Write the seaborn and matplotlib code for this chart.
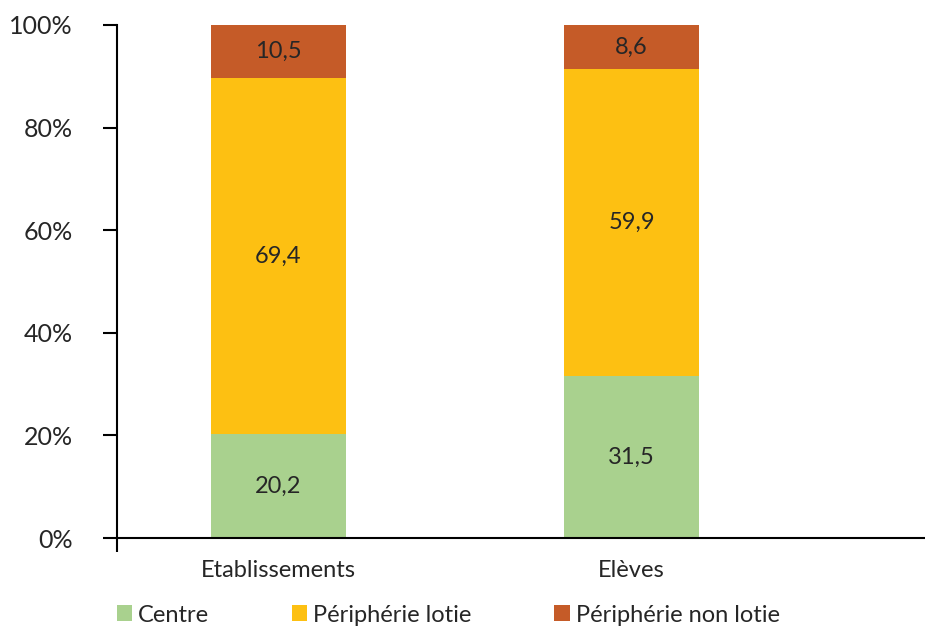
import matplotlib
matplotlib.use("Agg")
import matplotlib.pyplot as plt
import seaborn as sns
import pandas as pd
import numpy as np
from matplotlib.patches import Patch

categories = ["Etablissements", "Elèves"]
series = ["Centre", "Périphérie lotie", "Périphérie non lotie"]
centre = [20.2, 31.5]
peri_lotie = [69.4, 59.9]
peri_non_lotie = [10.5, 8.6]
yticks = [0, 20, 40, 60, 80, 100]
ytick_labels = ["0%", "20%", "40%", "60%", "80%", "100%"]
colors = ["#A9D18E", "#FDC012", "#C55B28"]

sns.set_theme(style="white")
plt.rcParams["font.family"] = ["Lato", "DejaVu Sans"]
plt.rcParams["font.weight"] = "normal"
txt = "#262626"

fig = plt.figure(figsize=(9.25, 6.28), dpi=100)
ax = fig.add_axes([117/925, 1-538/628, 1-117/925, (538-25)/628])

vals = [centre, peri_lotie, peri_non_lotie]
cum = np.cumsum(np.array(vals), axis=0)
df = pd.DataFrame({"cat": categories})
# draw from top layer down so the stacked look emerges
for i in range(len(series) - 1, -1, -1):
    df["v"] = cum[i]
    sns.barplot(data=df, x="cat", y="v", color=colors[i], width=135/353,
                saturation=1, ax=ax, order=categories, linewidth=0, edgecolor="none")

for i in range(len(series)):
    for j in range(len(categories)):
        bottom = cum[i][j] - vals[i][j]
        ax.text(j, bottom + vals[i][j] / 2, f"{vals[i][j]:.1f}".replace(".", ","),
                ha="center", va="center", fontsize=17, color=txt)

xmin = -(278.5 - 117) / 353
xmax = 1 + (925 - 631.5) / 353
ax.set_xlim(xmin, xmax)
ax.set_ylim(0, 100)
ax.set_yticks(yticks)
ax.set_yticklabels(ytick_labels, fontsize=18, color=txt)
ax.set_xticks([0, 1])
ax.set_xticklabels(categories, fontsize=17, color=txt)
ax.set_xticks([xmin], minor=True)
ax.tick_params(axis="x", which="major", length=0, pad=16)
ax.tick_params(axis="x", which="minor", length=10, width=1.5, color="black", direction="out", bottom=True)
ax.tick_params(axis="y", length=10, width=1.5, color="black", direction="out", pad=22, left=True)
ax.set_xlabel("")
ax.set_ylabel("")
for s in ["top", "right"]:
    ax.spines[s].set_visible(False)
for s in ["left", "bottom"]:
    ax.spines[s].set_color("black")
    ax.spines[s].set_linewidth(1.5)
ax.spines["bottom"].set_zorder(5)

handles = [Patch(facecolor=c, edgecolor="none") for c in colors]
leg = fig.legend(handles, series, loc="center left", bbox_to_anchor=(117/925, 1-615/628),
                 ncol=3, frameon=False, fontsize=17, handlelength=0.65, handleheight=0.65,
                 handletextpad=0.25, columnspacing=3.5, borderaxespad=0, borderpad=0)
for t in leg.get_texts():
    t.set_color(txt)

fig.savefig("out.png", dpi=100)
